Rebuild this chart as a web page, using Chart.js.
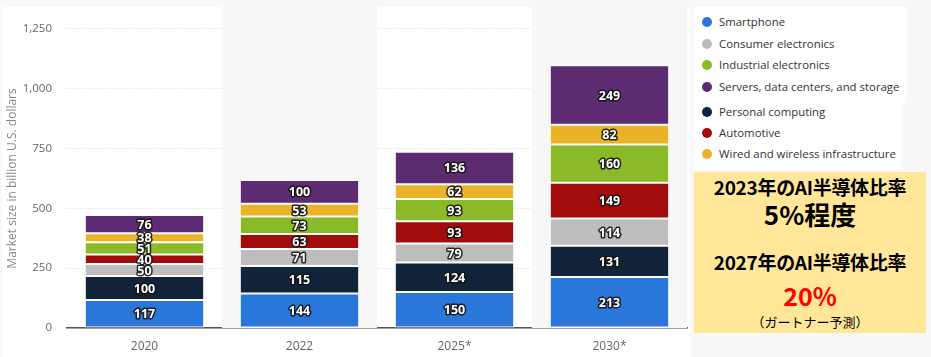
<!DOCTYPE html>
<html><head><meta charset="utf-8">
<script src="https://cdn.jsdelivr.net/npm/chart.js@4/dist/chart.umd.min.js"></script>
<style>
html,body{margin:0;padding:0;background:#f8f8f8;width:931px;height:357px;overflow:hidden;font-family:"Open Sans","DejaVu Sans",sans-serif;}
#panel{position:absolute;left:2px;top:7px;width:688px;height:350px;background:#fff;}
#wrap{position:absolute;left:0;top:7px;width:690px;height:350px;}
.lg{position:absolute;background:#fff;}
.it{position:absolute;left:8px;font-size:11.4px;color:#333;white-space:nowrap;line-height:14px;}
.it i{position:absolute;left:0;top:2px;width:10px;height:10px;border-radius:50%;}
.it span{position:absolute;left:17px;top:0;}
#ybox{position:absolute;left:694px;top:172px;width:232px;height:161px;background:#ffe699;text-align:center;font-family:"Noto Sans CJK JP",sans-serif;color:#000;}
#ybox div{position:absolute;left:0;width:100%;white-space:nowrap;}
</style></head><body>
<div id="panel"></div>
<div id="wrap"><canvas id="c" width="690" height="350"></canvas></div>
<div class="lg" style="left:694px;top:7px;width:212px;height:96px" id="lg1"></div>
<div class="lg" style="left:694px;top:103px;width:208px;height:67px" id="lg2"></div>
<div id="ybox">
<div style="top:1px;font-size:19px;font-weight:bold;letter-spacing:-0.3px;">2023年のAI半導体比率</div>
<div style="top:23px;font-size:26px;font-weight:bold;">5%程度</div>
<div style="top:76px;font-size:19px;font-weight:bold;letter-spacing:-0.3px;">2027年のAI半導体比率</div>
<div style="top:105px;font-size:25px;font-weight:bold;color:#ff0000;">20%</div>
<div style="top:140px;font-size:13px;">（ガートナー予測）</div>
</div>
<script>
const categories = ["2020","2022","2025*","2030*"];
const smartphone = [117,144,150,213];
const personalComputing = [100,115,124,131];
const consumerElectronics = [50,71,79,114];
const automotive = [40,63,93,149];
const industrialElectronics = [51,73,93,160];
const wiredWireless = [38,53,62,82];
const servers = [76,100,136,249];
const yTicks = [0,250,500,750,1000,1250];

const series = [
  {label:"Smartphone", data:smartphone, color:"#2a77dc"},
  {label:"Personal computing", data:personalComputing, color:"#11243a"},
  {label:"Consumer electronics", data:consumerElectronics, color:"#bdbdbd"},
  {label:"Automotive", data:automotive, color:"#a30c0c"},
  {label:"Industrial electronics", data:industrialElectronics, color:"#8aba27"},
  {label:"Wired and wireless infrastructure", data:wiredWireless, color:"#ebb327"},
  {label:"Servers, data centers, and storage", data:servers, color:"#5d2b72"}
];
const legend1 = ["Smartphone","Consumer electronics","Industrial electronics","Servers, data centers, and storage"];
const legend2 = ["Personal computing","Automotive","Wired and wireless infrastructure"];

function buildLegend(id, names, tops){
  const el = document.getElementById(id);
  names.forEach((n,i)=>{
    const s = series.find(x=>x.label===n);
    const d = document.createElement('div');
    d.className='it'; d.style.top = tops[i]+'px';
    d.innerHTML = '<i style="background:'+s.color+'"></i><span>'+n+'</span>';
    el.appendChild(d);
  });
}
buildLegend('lg1', legend1, [8,30,51,73]);
buildLegend('lg2', legend2, [2,23,44]);

const bands = {
  id:'bands',
  beforeDatasetsDraw(chart){
    const {ctx, chartArea} = chart;
    ctx.save();
    ctx.fillStyle = '#f7f7f7';
    const w = (chartArea.right-chartArea.left)/categories.length;
    categories.forEach((c,i)=>{
      if(i%2===1){
        ctx.fillRect(chartArea.left + i*w, 0, w, chartArea.bottom);
      }
    });
    ctx.restore();
  }
};
const labels = {
  id:'labels',
  afterDatasetsDraw(chart){
    const ctx = chart.ctx;
    ctx.save();
    ctx.font = 'bold 12.5px "Open Sans", sans-serif';
    ctx.textAlign='center'; ctx.textBaseline='middle';
    ctx.lineJoin='round';
    chart.data.datasets.forEach((ds,di)=>{
      chart.getDatasetMeta(di).data.forEach((bar,i)=>{
        const y = (bar.y+bar.base)/2;
        const t = String(ds.data[i]);
        ctx.strokeStyle='rgba(20,20,20,0.9)'; ctx.lineWidth=3;
        ctx.strokeText(t, bar.x, y+1);
        ctx.fillStyle='#fff';
        ctx.fillText(t, bar.x, y+1);
      });
    });
    ctx.restore();
  }
};

new Chart(document.getElementById('c'), {
  type:'bar',
  data:{
    labels:categories,
    datasets: series.map(s=>({label:s.label, data:s.data, backgroundColor:s.color, borderColor:'#ffffff', borderWidth:1, borderSkipped:false, barPercentage:0.77, categoryPercentage:1}))
  },
  options:{
    responsive:false, animation:false,
    layout:{padding:{top:20,right:3,left:5,bottom:0}},
    plugins:{legend:{display:false}, tooltip:{enabled:false}},
    scales:{
      x:{stacked:true,
         afterFit(s){ s.height = 29; },
         grid:{display:false, drawTicks:false},
         border:{display:true,color:'#555',width:1.5},
         ticks:{color:'#666',font:{size:12,family:'"Open Sans", sans-serif'},padding:11}},
      y:{stacked:true, min:0, max:1250,
         afterBuildTicks(s){ s.ticks = yTicks.map(v=>({value:v})); },
         afterFit(s){ s.width = 62; },
         grid:{color:'#d8d8d8', lineWidth:1, drawTicks:false},
         border:{display:false, dash:[1,2]},
         ticks:{color:'#666',font:{size:11.5,family:'"Open Sans", sans-serif'},padding:15,
                callback:v=>v.toLocaleString('en-US')},
         title:{display:true,text:'Market size in billion U.S. dollars',color:'#888',font:{size:12,family:'"Open Sans", sans-serif'},padding:{top:0,bottom:2}}
      }
    }
  },
  plugins:[bands, labels]
});
</script>
</body></html>
